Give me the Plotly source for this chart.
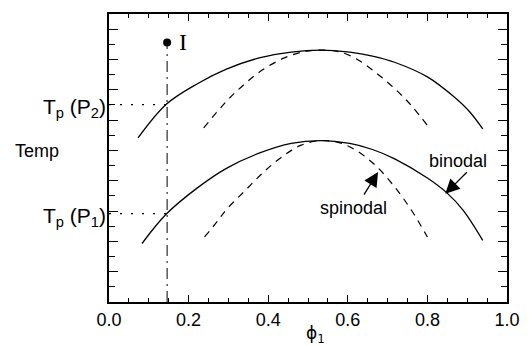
import plotly.graph_objects as go

# ---- data ----
upper_binodal_x = [0.073, 0.144, 0.222, 0.295, 0.377, 0.458, 0.532, 0.605, 0.662, 0.719, 0.80, 0.866, 0.906, 0.939]
upper_binodal_y = [10.83, 13.05, 14.40, 15.36, 16.10, 16.49, 16.62, 16.48, 16.22, 15.80, 14.85, 13.55, 12.55, 11.42]

upper_spinodal_x = [0.238, 0.295, 0.336, 0.385, 0.442, 0.491, 0.532, 0.58, 0.624, 0.672, 0.719, 0.76, 0.80]
upper_spinodal_y = [11.49, 13.24, 14.27, 15.30, 16.12, 16.52, 16.62, 16.50, 16.00, 15.10, 14.05, 12.95, 11.64]

lower_binodal_x = [0.083, 0.144, 0.222, 0.295, 0.377, 0.458, 0.532, 0.605, 0.662, 0.719, 0.80, 0.849, 0.89, 0.939]
lower_binodal_y = [3.86, 5.80, 7.53, 8.82, 9.82, 10.47, 10.65, 10.46, 10.06, 9.43, 8.18, 7.20, 6.05, 4.07]

lower_spinodal_x = [0.240, 0.271, 0.295, 0.344, 0.393, 0.442, 0.483, 0.532, 0.58, 0.624, 0.672, 0.719, 0.76, 0.80]
lower_spinodal_y = [4.29, 5.28, 6.10, 7.40, 8.68, 9.72, 10.35, 10.65, 10.50, 9.95, 8.95, 7.55, 6.05, 4.29]

point_I_x = [0.146]
point_I_y = [17.12]

tp_p2 = 13.02
tp_p1 = 5.83

x_ticks = [0.0, 0.2, 0.4, 0.6, 0.8, 1.0]
x_tick_labels = ["0.0", "0.2", "0.4", "0.6", "0.8", "1.0"]

FONT = "Liberation Sans, Arial, sans-serif"

fig = go.Figure()

line_style = dict(color="black", width=1.3, shape="spline", smoothing=1.0)
dash_style = dict(color="black", width=1.2, shape="spline", smoothing=1.0, dash="7px,6px")

fig.add_trace(go.Scatter(x=upper_binodal_x, y=upper_binodal_y, mode="lines", line=line_style))
fig.add_trace(go.Scatter(x=lower_binodal_x, y=lower_binodal_y, mode="lines", line=line_style))
fig.add_trace(go.Scatter(x=upper_spinodal_x, y=upper_spinodal_y, mode="lines", line=dash_style))
fig.add_trace(go.Scatter(x=lower_spinodal_x, y=lower_spinodal_y, mode="lines", line=dash_style))

# vertical dash-dot line from point I
fig.add_trace(go.Scatter(x=[point_I_x[0], point_I_x[0]], y=[0, point_I_y[0]], mode="lines",
                         line=dict(color="black", width=1, dash="11px,5px,2px,5px")))
# dotted horizontal lines
fig.add_trace(go.Scatter(x=[0, 0.144], y=[tp_p2, tp_p2], mode="lines",
                         line=dict(color="black", width=1.2, dash="2px,9px")))
fig.add_trace(go.Scatter(x=[0, 0.144], y=[tp_p1, tp_p1], mode="lines",
                         line=dict(color="black", width=1.2, dash="2px,9px")))
# point I
fig.add_trace(go.Scatter(x=point_I_x, y=point_I_y, mode="markers",
                         marker=dict(color="black", size=8)))

W, H = 532, 346
ml, mr, mt, mb = 109, 13, 13, 44
pw, ph = W - ml - mr, H - mt - mb

annotations = [
    dict(x=point_I_x[0], y=point_I_y[0], xref="x", yref="y", text="I", showarrow=False,
         xanchor="center", yanchor="middle", xshift=16, yshift=1,
         font=dict(family="Liberation Serif, Times New Roman, serif", size=24, color="black")),
    dict(x=0, y=tp_p2, xref="x", yref="y", text="T<sub>p</sub> (P<sub>2</sub>)", showarrow=False,
         xanchor="right", yanchor="middle", xshift=-1, yshift=-3,
         font=dict(family=FONT, size=21, color="black")),
    dict(x=0, y=tp_p1, xref="x", yref="y", text="T<sub>p</sub> (P<sub>1</sub>)", showarrow=False,
         xanchor="right", yanchor="middle", xshift=-1, yshift=-3,
         font=dict(family=FONT, size=21, color="black")),
    dict(x=(34.5 - ml) / pw, y=(H - mb - 150) / ph, xref="paper", yref="paper",
         text="Temp", showarrow=False, xanchor="center", yanchor="middle",
         font=dict(family=FONT, size=18, color="black")),
    dict(x=0.845, y=7.14, xref="x", yref="y", text="", showarrow=True,
         ax=23, ay=-23, arrowhead=2, arrowsize=2.2, arrowwidth=1.3, arrowcolor="black"),
    dict(x=0.676, y=8.57, xref="x", yref="y", text="", showarrow=True,
         ax=-15, ay=24, arrowhead=2, arrowsize=2.2, arrowwidth=1.3, arrowcolor="black"),
    dict(x=0.876, y=9.3, xref="x", yref="y", text="binodal", showarrow=False,
         font=dict(family=FONT, size=18, color="black")),
    dict(x=0.615, y=6.2, xref="x", yref="y", text="spinodal", showarrow=False,
         font=dict(family=FONT, size=18, color="black")),
    dict(x=0.52, y=0, xref="x", yref="y", text="ϕ<sub>1</sub>", showarrow=False,
         xanchor="center", yanchor="top", yshift=-19,
         font=dict(family="DejaVu Sans, sans-serif", size=17, color="black")),
]

fig.update_layout(
    width=W, height=H,
    margin=dict(l=ml, r=mr, t=mt, b=mb),
    paper_bgcolor="white", plot_bgcolor="white",
    showlegend=False,
    annotations=annotations,
    font=dict(family=FONT, size=18, color="black"),
)
fig.update_xaxes(range=[0, 1], tickvals=x_ticks, ticktext=x_tick_labels,
                 ticks="inside", ticklen=7, tickwidth=1.3, tickcolor="black",
                 minor=dict(dtick=0.05, ticks="inside", ticklen=4, tickwidth=1, tickcolor="black"),
                 showline=True, linecolor="black", linewidth=2, mirror="ticks",
                 showgrid=False, zeroline=False,
                 tickfont=dict(family=FONT, size=18, color="black"))
fig.update_yaxes(range=[0, 19], dtick=2, tick0=0, showticklabels=False,
                 ticks="inside", ticklen=9, tickwidth=1.3, tickcolor="black",
                 minor=dict(dtick=1, ticks="inside", ticklen=6, tickwidth=1, tickcolor="black"),
                 showline=True, linecolor="black", linewidth=2, mirror="ticks",
                 showgrid=False, zeroline=False)

fig.write_html("out.html")
